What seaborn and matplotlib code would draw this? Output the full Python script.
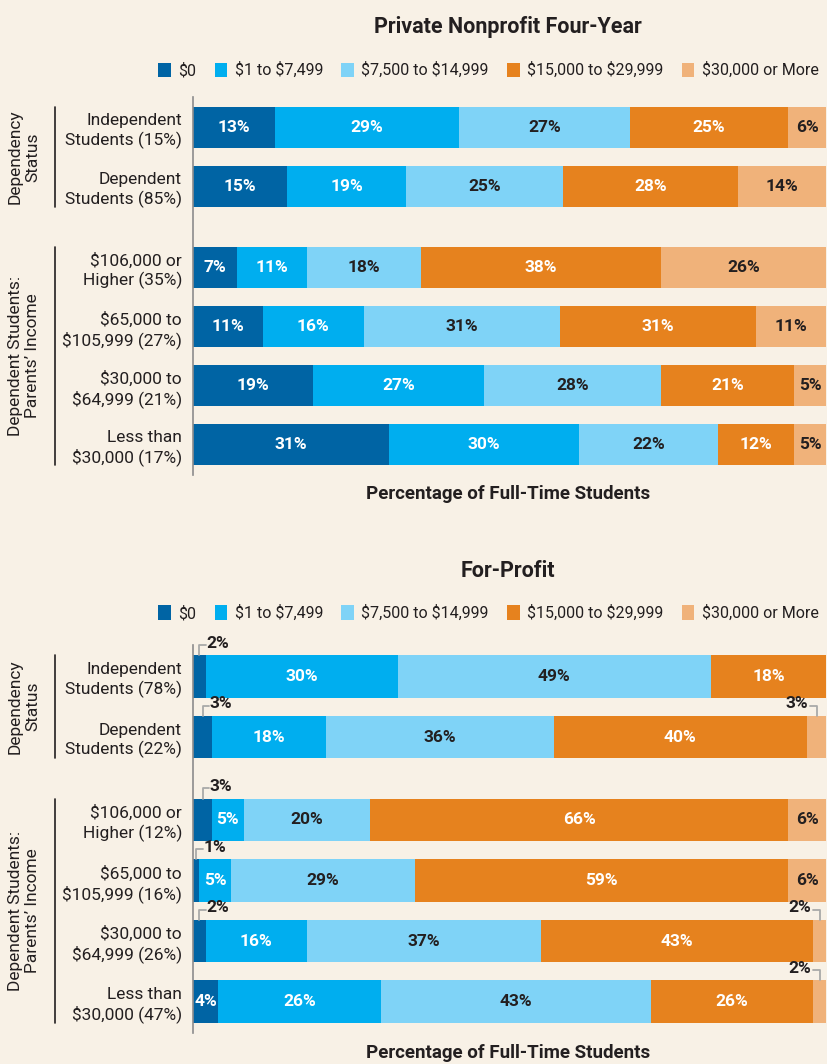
import matplotlib
matplotlib.use('Agg')
import matplotlib.pyplot as plt
from matplotlib.patches import Patch
import seaborn as sns

# ---- data ----
categories = ['$0', '$1 to $7,499', '$7,500 to $14,999', '$15,000 to $29,999', '$30,000 or More']

nonprofit_rows = ['Independent\nStudents (15%)', 'Dependent\nStudents (85%)',
                  '$106,000 or\nHigher (35%)', '$65,000 to\n$105,999 (27%)',
                  '$30,000 to\n$64,999 (21%)', 'Less than\n$30,000 (17%)']
np_zero = [13, 15, 7, 11, 19, 31]
np_low = [29, 19, 11, 16, 27, 30]
np_mid = [27, 25, 18, 31, 28, 22]
np_high = [25, 28, 38, 31, 21, 12]
np_top = [6, 14, 26, 11, 5, 5]

forprofit_rows = ['Independent\nStudents (78%)', 'Dependent\nStudents (22%)',
                  '$106,000 or\nHigher (12%)', '$65,000 to\n$105,999 (16%)',
                  '$30,000 to\n$64,999 (26%)', 'Less than\n$30,000 (47%)']
fp_zero = [2, 3, 3, 1, 2, 4]
fp_low = [30, 18, 5, 5, 16, 26]
fp_mid = [49, 36, 20, 29, 37, 43]
fp_high = [18, 40, 66, 59, 43, 26]
fp_top = [0, 3, 6, 6, 2, 2]

group_labels = ['Dependency\nStatus', 'Dependent Students:\nParents\u2019 Income']

# ---- style ----
colors = ['#0064a4', '#00aeef', '#7fd3f7', '#e6821e', '#f0b27a']
text_colors = ['white', 'white', '#231f20', 'white', '#231f20']
bg = '#f8f1e6'
dark = '#231f20'

sns.set_style('white')
plt.rcParams['font.family'] = ['Roboto', 'DejaVu Sans']
plt.rcParams['text.parse_math'] = False   # keep the $ signs literal

row_pos = [0, 1, 2.37, 3.37, 4.37, 5.37]
bar_h = 0.7
VAL_FS = 12.5


def draw_panel(ax, rows, series):
    totals = [sum(s[i] for s in series) for i in range(len(rows))]
    shares = [[s[i] / totals[i] * 100 for i in range(len(rows))] for s in series]
    cums = []
    run = [0.0] * len(rows)
    for sh in shares:
        run = [a + b for a, b in zip(run, sh)]
        cums.append(run)
    # stacked: draw the longest cumulative first
    for k in range(len(series) - 1, -1, -1):
        sns.barplot(x=cums[k], y=row_pos, orient='h', native_scale=True,
                    color=colors[k], saturation=1, width=bar_h,
                    errorbar=None, linewidth=0, edgecolor='none', ax=ax)

    for i, p in enumerate(row_pos):
        left = 0
        for k, s in enumerate(series):
            v = s[i]
            w = shares[k][i]
            c = left + w / 2
            if v >= 4:
                ax.text(c, p, f'{v}%', ha='center', va='center', color=text_colors[k],
                        fontsize=VAL_FS, fontweight='bold')
            elif v > 0:
                top = p - bar_h / 2
                yk = top - 0.17
                if k == 0:
                    ax.plot([c, c, c + 1.0], [top, yk, yk], color='#a9a9a9', lw=1.3,
                            clip_on=False)
                    ax.text(c + 1.1, yk - 0.03, f'{v}%', ha='left', va='center', color=dark,
                            fontsize=VAL_FS, fontweight='bold')
                else:
                    ax.plot([c - 1.0, c, c], [yk, yk, top], color='#a9a9a9', lw=1.3,
                            clip_on=False)
                    ax.text(c - 1.3, yk - 0.03, f'{v}%', ha='right', va='center', color=dark,
                            fontsize=VAL_FS, fontweight='bold')
            left += w

    ax.set_xlim(0, 100)
    ax.set_ylim(row_pos[-1] + 0.52, -0.52)
    ax.set_yticks(row_pos, rows)
    ax.set_xticks([])
    ax.set_xlabel('')
    ax.set_ylabel('')
    ax.tick_params(axis='y', length=0, pad=8, labelsize=12.5, colors=dark)
    for t in ax.get_yticklabels():
        t.set_linespacing(1.25)
    ax.set_facecolor(bg)
    for side in ['top', 'right', 'bottom']:
        ax.spines[side].set_visible(False)
    ax.spines['left'].set_color('#8c8c8c')
    ax.spines['left'].set_linewidth(1.2)

    # group brackets on the left
    ytr = ax.get_yaxis_transform()
    for (a, b), lab in zip([(0, 1), (2, 5)], group_labels):
        y0 = row_pos[a] - bar_h / 2
        y1 = row_pos[b] + bar_h / 2
        ax.plot([-0.218, -0.218], [y0, y1], transform=ytr, color=dark, lw=1.2, clip_on=False)
        ax.text(-0.267, (y0 + y1) / 2, lab, transform=ytr, rotation=90, ha='center',
                va='center', multialignment='center', fontsize=12.5, color=dark,
                linespacing=1.15)


fig = plt.figure(figsize=(8.27, 10.64), dpi=100, facecolor=bg)
ax1 = fig.add_axes([0.2334, 0.5536, 0.7654, 0.3553])
ax2 = fig.add_axes([0.2334, 0.0291, 0.7654, 0.3647])

draw_panel(ax1, nonprofit_rows, [np_zero, np_low, np_mid, np_high, np_top])
draw_panel(ax2, forprofit_rows, [fp_zero, fp_low, fp_mid, fp_high, fp_top])

handles = [Patch(facecolor=c, edgecolor='none') for c in colors]
for title, ty, ly, xy in [('Private Nonprofit Four-Year', 0.9746, 0.934, 0.5357),
                          ('For-Profit', 0.4633, 0.4239, 0.0103)]:
    fig.text(0.614, ty, title, ha='center', va='center', fontsize=15.5,
             fontweight='bold', color=dark)
    fig.legend(handles, categories, loc='center right', bbox_to_anchor=(1.007, ly), ncol=5,
               frameon=False, fontsize=11.5, handlelength=0.8, handleheight=1.0,
               handletextpad=0.45, columnspacing=1.15, labelcolor=dark)
    fig.text(0.614, xy, 'Percentage of Full-Time Students', ha='center', va='center',
             fontsize=13.5, fontweight='bold', color=dark)

fig.savefig('out.png', dpi=100, facecolor=bg)
